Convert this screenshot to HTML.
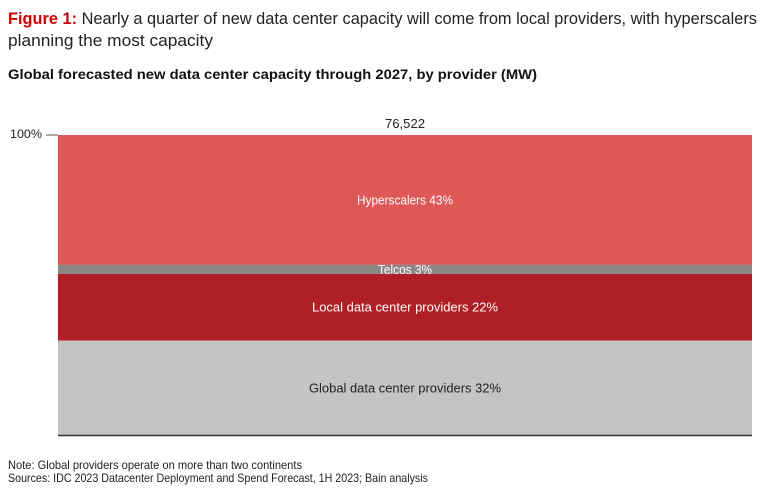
<!DOCTYPE html>
<html><head><meta charset="utf-8"><style>
html,body{margin:0;padding:0;background:#fff;}
svg{display:block;font-family:"Liberation Sans",sans-serif;}
</style></head><body>
<svg id="chart" width="771" height="499" viewBox="0 0 771 499">
<text x="8" y="24" font-size="17" fill="#222" textLength="749" lengthAdjust="spacingAndGlyphs"><tspan fill="#cc0000" font-weight="bold">Figure 1:</tspan> Nearly a quarter of new data center capacity will come from local providers, with hyperscalers</text>
<text x="8" y="46" font-size="17" fill="#222" textLength="205" lengthAdjust="spacingAndGlyphs">planning the most capacity</text>
<text x="8" y="79" font-size="14" font-weight="bold" fill="#111" textLength="529" lengthAdjust="spacingAndGlyphs">Global forecasted new data center capacity through 2027, by provider (MW)</text>
<text x="10" y="138" font-size="12" fill="#222" textLength="32" lengthAdjust="spacingAndGlyphs">100%</text>
<line x1="46" y1="135" x2="58" y2="135" stroke="#555" stroke-width="1"/>
<text x="405" y="128" font-size="12.5" fill="#222" text-anchor="middle" textLength="40" lengthAdjust="spacingAndGlyphs">76,522</text>
<g id="bars"></g>
<line x1="58" y1="435.5" x2="752" y2="435.5" stroke="#333" stroke-width="1.5"/>
<text x="8" y="469" font-size="12" fill="#222" textLength="294" lengthAdjust="spacingAndGlyphs">Note: Global providers operate on more than two continents</text>
<text x="8" y="482" font-size="12" fill="#222" textLength="420" lengthAdjust="spacingAndGlyphs">Sources: IDC 2023 Datacenter Deployment and Spend Forecast, 1H 2023; Bain analysis</text>
</svg>
<script>
const categories = ["Hyperscalers", "Telcos", "Local data center providers", "Global data center providers"];
const shares = [43.3, 3, 22.2, 31.5];
const shareLabels = ["43%", "3%", "22%", "32%"];
const colors = ["#df5858", "#888884", "#b01f25", "#c4c4c4"];
const textColors = ["#fff", "#fff", "#fff", "#222"];
const X0 = 58, X1 = 752, YTOP = 135, YBOT = 435;
const total = shares.reduce((a, b) => a + b, 0);
function yScale(v) { return YTOP + (v / total) * (YBOT - YTOP); }
const g = document.getElementById('bars');
const NS = 'http://www.w3.org/2000/svg';
let cum = 0;
categories.forEach((c, i) => {
  const y0 = yScale(cum), y1 = yScale(cum + shares[i]);
  cum += shares[i];
  const r = document.createElementNS(NS, 'rect');
  r.setAttribute('x', X0); r.setAttribute('y', y0);
  r.setAttribute('width', X1 - X0); r.setAttribute('height', y1 - y0);
  r.setAttribute('fill', colors[i]);
  
  
  g.appendChild(r);
  const t = document.createElementNS(NS, 'text');
  t.setAttribute('x', (X0 + X1) / 2);
  t.setAttribute('y', (y0 + y1) / 2 + 4.5);
  t.setAttribute('text-anchor', 'middle');
  t.setAttribute('font-size', '13');
  t.setAttribute('fill', textColors[i]);
  t.textContent = c + ' ' + shareLabels[i];
  t.setAttribute('textLength', t.textContent.length * 6.0);
  t.setAttribute('lengthAdjust', 'spacingAndGlyphs');
  
  
  g.appendChild(t);
});
</script>
</body></html>
